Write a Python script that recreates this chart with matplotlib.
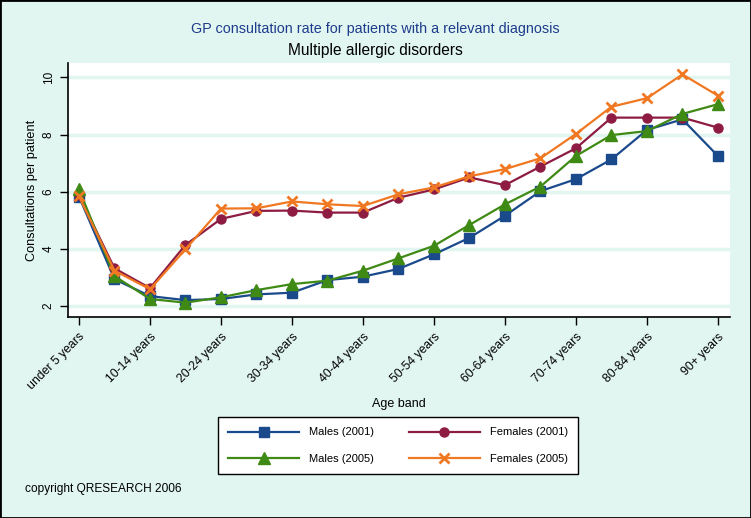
import matplotlib
matplotlib.use("Agg")
import matplotlib.pyplot as plt
from matplotlib import font_manager

# Age bands (19 groups) and rates
age_bands = ["under 5 years", "5-9 years", "10-14 years", "15-19 years", "20-24 years",
             "25-29 years", "30-34 years", "35-39 years", "40-44 years", "45-49 years",
             "50-54 years", "55-59 years", "60-64 years", "65-69 years", "70-74 years",
             "75-79 years", "80-84 years", "85-89 years", "90+ years"]

males_2001 = [5.83, 2.94, 2.35, 2.21, 2.25, 2.41, 2.47, 2.91, 3.03, 3.30,
              3.81, 4.39, 5.16, 6.02, 6.44, 7.13, 8.16, 8.53, 7.25]
females_2001 = [5.87, 3.32, 2.63, 4.14, 5.05, 5.33, 5.34, 5.27, 5.27, 5.79,
                6.08, 6.50, 6.23, 6.88, 7.52, 8.59, 8.59, 8.59, 8.24]
males_2005 = [6.08, 3.05, 2.25, 2.12, 2.31, 2.56, 2.77, 2.89, 3.24, 3.67,
              4.11, 4.84, 5.56, 6.18, 7.25, 7.98, 8.12, 8.72, 9.06]
females_2005 = [5.84, 3.24, 2.59, 3.99, 5.41, 5.42, 5.66, 5.56, 5.50, 5.91,
                6.15, 6.54, 6.79, 7.17, 8.02, 8.97, 9.27, 10.10, 9.36]

y_ticks = [2, 4, 6, 8, 10]

installed = {f.name for f in font_manager.fontManager.ttflist}
fam = "Liberation Sans Narrow" if "Liberation Sans Narrow" in installed else "Liberation Sans"
plt.rcParams["font.family"] = [fam, "DejaVu Sans"]

bg = "#E1F6F1"
fig = plt.figure(figsize=(7.51, 5.18), dpi=100, facecolor=bg)
fig.patches.append(plt.Rectangle((0, 0), 1, 1, transform=fig.transFigure,
                                 fill=False, edgecolor="black", linewidth=2))
ax = fig.add_axes([68 / 751, 1 - 317 / 518, (730 - 68) / 751, (317 - 63) / 518])
ax.set_facecolor("white")

x = list(range(len(age_bands)))
ax.plot(x, males_2001, color="#1B4A8C", marker="s", markersize=7.5, lw=1.6, label="Males (2001)", zorder=3)
ax.plot(x, females_2001, color="#8E1C42", marker="o", markersize=6.5, lw=1.6, label="Females (2001)", zorder=3)
ax.plot(x, males_2005, color="#3F8A14", marker="^", markersize=8.5, lw=1.6, label="Males (2005)", zorder=3)
ax.plot(x, females_2005, color="#F07822", marker="x", markersize=7, mew=2, lw=1.6, label="Females (2005)", zorder=3)

ax.set_xlim(-0.31, 18.34)
ax.set_ylim(1.62, 10.5)
ax.set_yticks(y_ticks)
ax.set_yticklabels([str(v) for v in y_ticks], rotation=90, va="center", fontsize=8.5)
ax.set_xticks(x[::2])
ax.set_xticklabels(age_bands[::2], rotation=45, ha="right", rotation_mode="anchor", fontsize=8.8)
ax.tick_params(axis="both", length=6, width=1, color="black")
ax.tick_params(axis="x", pad=4)
ax.grid(axis="y", color="#E1F6F1", linewidth=2.5, zorder=0)
ax.set_axisbelow(True)
for s in ["top", "right"]:
    ax.spines[s].set_visible(False)
ax.spines["left"].set_linewidth(1.2)
ax.spines["bottom"].set_linewidth(1.2)

ax.set_ylabel("Consultations per patient", fontsize=9.2)
ax.yaxis.set_label_coords(-30 / 662, 0.5)
ax.set_xlabel("Age band", fontsize=9)
ax.xaxis.set_label_coords(0.5, -(398 - 317) / 254)

fig.text(0.5, 1 - 29 / 518, "GP consultation rate for patients with a relevant diagnosis",
         ha="center", va="center", fontsize=10.4, color="#1E3C8C")
fig.text(0.5, 1 - 51 / 518, "Multiple allergic disorders", ha="center", va="center", fontsize=11.2)
fig.text(25 / 751, 1 - 489 / 518, "copyright QRESEARCH 2006", ha="left", va="center", fontsize=8.6)

h, l = ax.get_legend_handles_labels()
order = [0, 2, 1, 3]
leg = fig.legend([h[i] for i in order], [l[i] for i in order], ncol=2,
                 loc="center", bbox_to_anchor=(398 / 751, 1 - 445.5 / 518),
                 frameon=True, fancybox=False, edgecolor="black", facecolor="white",
                 fontsize=8, handlelength=6.4, handletextpad=0.9, columnspacing=3.1,
                 borderpad=0.9, labelspacing=1.45)
leg.get_frame().set_linewidth(1)
leg.get_frame().set_alpha(1)

fig.savefig("out.png", dpi=100, facecolor=bg)
